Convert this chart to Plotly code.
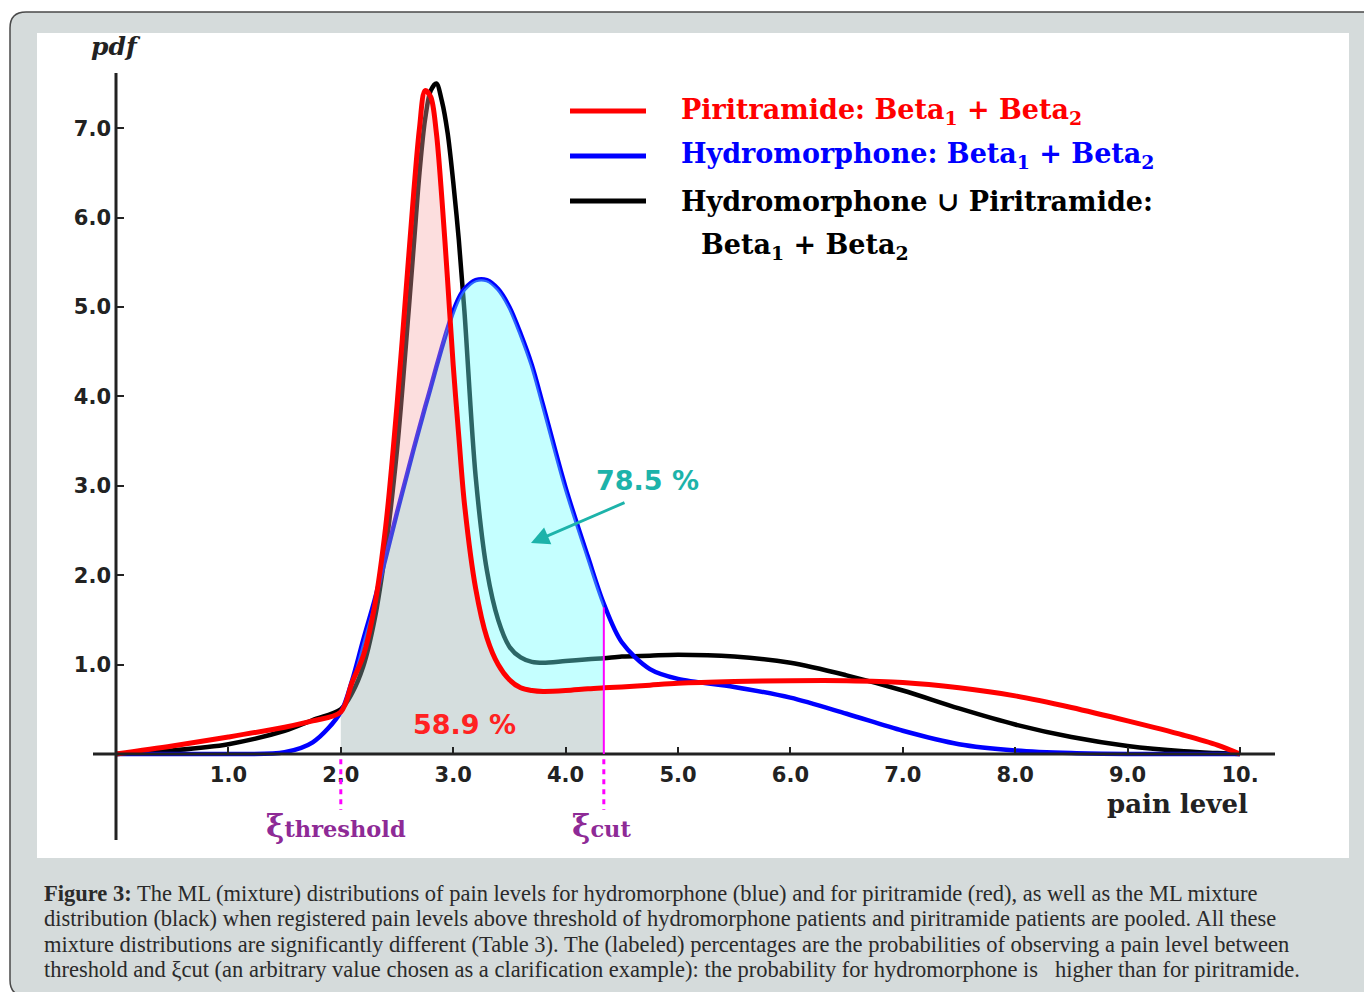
import numpy as np
import plotly.graph_objects as go

W, H = 1364, 992

# ---------------- data ----------------
pain = [0, 0.5, 1.0, 1.5, 1.75, 2.0, 2.1, 2.2, 2.3, 2.4, 2.5, 2.6, 2.65, 2.7, 2.75, 2.8, 2.85, 2.9,
        2.95, 3.0, 3.05, 3.1, 3.2, 3.3, 3.4, 3.5, 3.6, 3.7, 3.8, 4.0, 4.2, 4.34, 4.5, 4.75, 5.0,
        5.5, 6.0, 6.5, 7.0, 7.5, 8.0, 8.5, 9.0, 9.5, 9.8, 10.0]

piritramide = [0, 0.09, 0.19, 0.30, 0.37, 0.47, 0.80, 1.10, 1.65, 2.55, 3.90, 5.50, 6.30, 7.00, 7.42,
               7.35, 6.95, 6.20, 5.30, 4.35, 3.55, 2.80, 1.85, 1.30, 1.00, 0.83, 0.74, 0.71, 0.70,
               0.71, 0.73, 0.74, 0.75, 0.77, 0.79, 0.81, 0.82, 0.82, 0.80, 0.74, 0.65, 0.52, 0.37,
               0.21, 0.10, 0]

pooled = [0, 0.04, 0.11, 0.26, 0.38, 0.50, 0.68, 0.98, 1.50, 2.30, 3.40, 4.90, 5.70, 6.50, 7.10,
          7.42, 7.50, 7.30, 6.95, 6.40, 5.75, 4.95, 3.10, 2.05, 1.50, 1.20, 1.08, 1.03, 1.02, 1.04,
          1.06, 1.07, 1.09, 1.10, 1.11, 1.09, 1.02, 0.88, 0.71, 0.51, 0.33, 0.19, 0.09, 0.03, 0.01, 0]

hydromorphone = [0, 0, 0, 0.02, 0.13, 0.47, 0.82, 1.28, 1.72, 2.20, 2.70, 3.18, 3.42, 3.65, 3.88,
                 4.10, 4.33, 4.55, 4.76, 4.95, 5.10, 5.20, 5.30, 5.30, 5.20, 5.00, 4.70, 4.35, 3.90,
                 2.98, 2.20, 1.68, 1.25, 0.95, 0.84, 0.75, 0.63, 0.45, 0.26, 0.11, 0.04, 0.01, 0, 0, 0, 0]

xi_threshold = 2.0
xi_cut = 4.34

x_tickvals = [1, 2, 3, 4, 5, 6, 7, 8, 9, 10]
x_ticktext = ["1.0", "2.0", "3.0", "4.0", "5.0", "6.0", "7.0", "8.0", "9.0", "10."]
y_tickvals = [1, 2, 3, 4, 5, 6, 7]
y_ticktext = ["1.0", "2.0", "3.0", "4.0", "5.0", "6.0", "7.0"]

pct_hydro = "78.5 %"
pct_pirit = "58.9 %"

legend_items = [
    ("Piritramide: Beta<sub>1</sub> + Beta<sub>2</sub>", "#ff0000"),
    ("Hydromorphone: Beta<sub>1</sub> + Beta<sub>2</sub>", "#0000ff"),
    ("Hydromorphone ∪ Piritramide:", "#000000"),
]

caption_lines = [
    "<b>Figure 3:</b> The ML (mixture) distributions of pain levels for hydromorphone (blue) and for piritramide (red), as well as the ML mixture",
    "distribution (black) when registered pain levels above threshold of hydromorphone patients and piritramide patients are pooled. All these",
    "mixture distributions are significantly different (Table 3). The (labeled) percentages are the probabilities of observing a pain level between",
    "threshold and ξcut (an arbitrary value chosen as a clarification example): the probability for hydromorphone is   higher than for piritramide.",
]

# ---------------- helpers for layout positions (pixel -> paper) ----------------
def px(x):
    return x / W

def py(y):
    return 1 - y / H

# axis geometry: data origin at pixel (116, 754); 112.4 px per x unit, 89.4 px per y unit
X0, Y0, SX, SY = 116, 754, 112.4, 89.4
plot_l, plot_r, plot_t, plot_b = 37, 1349, 33, 858
xr = [(plot_l - X0) / SX, (plot_r - X0) / SX]
yr = [(Y0 - plot_b) / SY, (Y0 - plot_t) / SY]

SERIF = "DejaVu Serif"
SANS = "DejaVu Sans"
AXC = "#222222"
PURPLE = "#8e2a96"
MAGENTA = "#ff00ff"
TEAL = "#1db3aa"

x = np.array(pain)
r = np.array(piritramide)
b = np.array(hydromorphone)
k = np.array(pooled)

fig = go.Figure()

# lines drawn under the shading
fig.add_trace(go.Scatter(x=x, y=k, mode="lines", line=dict(color="black", width=4.5, shape="spline", smoothing=0.9),
                         hoverinfo="skip", showlegend=False))
fig.add_trace(go.Scatter(x=x, y=b, mode="lines", line=dict(color="#0000ff", width=4.5, shape="spline", smoothing=0.9),
                         hoverinfo="skip", showlegend=False))

# shaded regions between threshold and cut
m = (x >= xi_threshold - 1e-9) & (x <= xi_cut + 1e-9)
xs, rs, bs = x[m], r[m], b[m]
low = np.minimum(rs, bs)
zeros = np.zeros_like(xs)

fig.add_trace(go.Scatter(x=xs, y=zeros, mode="lines", line=dict(width=0, shape="spline", smoothing=0.9),
                         hoverinfo="skip", showlegend=False))
fig.add_trace(go.Scatter(x=xs, y=low, mode="lines", line=dict(width=0, shape="spline", smoothing=0.9), fill="tonexty",
                         fillcolor="rgba(151,173,173,0.40)", hoverinfo="skip", showlegend=False))
fig.add_trace(go.Scatter(x=xs, y=rs, mode="lines", line=dict(width=0, shape="spline", smoothing=0.9), fill="tonexty",
                         fillcolor="rgba(246,164,164,0.365)", hoverinfo="skip", showlegend=False))
fig.add_trace(go.Scatter(x=xs, y=low, mode="lines", line=dict(width=0, shape="spline", smoothing=0.9),
                         hoverinfo="skip", showlegend=False))
fig.add_trace(go.Scatter(x=xs, y=bs, mode="lines", line=dict(width=0, shape="spline", smoothing=0.9), fill="tonexty",
                         fillcolor="rgba(110,255,255,0.40)", hoverinfo="skip", showlegend=False))

# red line on top
fig.add_trace(go.Scatter(x=x, y=r, mode="lines", line=dict(color="#ff0000", width=5, shape="spline", smoothing=0.9),
                         hoverinfo="skip", showlegend=False))

cut_top = float(np.interp(xi_cut, x, b))

shapes = []
# outer rounded panel
rad = 16
x1, y1 = 10, 12
x2, y2 = W + 20, H + 4
path = (f"M {px(x1)},{py(y2 - rad)} L {px(x1)},{py(y1 + rad)} Q {px(x1)},{py(y1)} {px(x1 + rad)},{py(y1)} "
        f"L {px(x2)},{py(y1)} L {px(x2)},{py(y2)} L {px(x1 + rad)},{py(y2)} "
        f"Q {px(x1)},{py(y2)} {px(x1)},{py(y2 - rad)} Z")
shapes.append(dict(type="path", xref="paper", yref="paper", path=path, fillcolor="#d5dbdb",
                   line=dict(color="#4a4a4a", width=1.5), layer="below"))
# white chart area
shapes.append(dict(type="rect", xref="paper", yref="paper", x0=px(plot_l), x1=px(plot_r),
                   y0=py(plot_b), y1=py(plot_t), fillcolor="white", line=dict(width=0), layer="below"))
# axis lines
shapes.append(dict(type="line", xref="x", yref="y", x0=(93 - X0) / SX, x1=(1275 - X0) / SX, y0=0, y1=0,
                   line=dict(color=AXC, width=3), layer="above"))
shapes.append(dict(type="line", xref="x", yref="y", x0=0, x1=0, y0=(Y0 - 840) / SY, y1=(Y0 - 73) / SY,
                   line=dict(color=AXC, width=3), layer="above"))
# threshold / cut markers
dash_bottom = (Y0 - 810) / SY
shapes.append(dict(type="line", xref="x", yref="y", x0=xi_threshold, x1=xi_threshold, y0=-0.06, y1=dash_bottom,
                   line=dict(color=MAGENTA, width=3, dash="5px,5px")))
shapes.append(dict(type="line", xref="x", yref="y", x0=xi_cut, x1=xi_cut, y0=-0.06, y1=dash_bottom,
                   line=dict(color=MAGENTA, width=3, dash="5px,5px")))
shapes.append(dict(type="line", xref="x", yref="y", x0=xi_cut, x1=xi_cut, y0=0, y1=cut_top - 0.04,
                   line=dict(color=MAGENTA, width=2)))
# legend samples
leg_y = [111, 156, 201]
for (txt, col), yy in zip(legend_items, leg_y):
    shapes.append(dict(type="line", xref="paper", yref="paper", x0=px(570), x1=px(646), y0=py(yy), y1=py(yy),
                       line=dict(color=col, width=5)))

ann = []
for (txt, col), yy in zip(legend_items, leg_y):
    ann.append(dict(xref="paper", yref="paper", x=px(679), y=py(yy), xanchor="left", yanchor="middle",
                    text=f"<b>{txt}</b>", showarrow=False, font=dict(family=SERIF, size=27, color=col)))
ann.append(dict(xref="paper", yref="paper", x=px(699), y=py(246), xanchor="left", yanchor="middle",
                text="<b>Beta<sub>1</sub> + Beta<sub>2</sub></b>", showarrow=False,
                font=dict(family=SERIF, size=27, color="black")))
# axis titles
ann.append(dict(xref="paper", yref="paper", x=px(116), y=py(46), xanchor="center", yanchor="middle",
                text="<b><i>pdf</i></b>", showarrow=False, font=dict(family=SERIF, size=25, color=AXC)))
ann.append(dict(xref="paper", yref="paper", x=px(1177), y=py(804), xanchor="center", yanchor="middle",
                text="<b>pain level</b>", showarrow=False, font=dict(family=SERIF, size=26, color=AXC)))
# percentages
ann.append(dict(xref="paper", yref="paper", x=px(465), y=py(724), xanchor="center", yanchor="middle",
                text=f"<b>{pct_pirit}</b>", showarrow=False, font=dict(family=SANS, size=27, color="#ff2222")))
ann.append(dict(xref="paper", yref="paper", x=px(647), y=py(480), xanchor="center", yanchor="middle",
                text=f"<b>{pct_hydro}</b>", showarrow=False, font=dict(family=SANS, size=27, color=TEAL)))
ann.append(dict(xref="x", yref="y", axref="x", ayref="y", x=(531 - X0) / SX, y=(Y0 - 543) / SY,
                ax=(626 - X0) / SX, ay=(Y0 - 502) / SY, text="", showarrow=True, arrowhead=2,
                arrowsize=1.3, arrowwidth=2.8, arrowcolor=TEAL))
# xi labels
ann.append(dict(xref="paper", yref="paper", x=px(264), y=py(826), xanchor="left", yanchor="middle",
                text="<b><span style='font-size:31px'>ξ</span>threshold</b>", showarrow=False,
                font=dict(family=SERIF, size=22.5, color=PURPLE)))
ann.append(dict(xref="paper", yref="paper", x=px(570), y=py(826), xanchor="left", yanchor="middle",
                text="<b><span style='font-size:31px'>ξ</span>cut</b>", showarrow=False,
                font=dict(family=SERIF, size=22.5, color=PURPLE)))
# caption
cap_y = [893, 918, 944, 969]
for line, yy in zip(caption_lines, cap_y):
    ann.append(dict(xref="paper", yref="paper", x=px(42), y=py(yy), xanchor="left", yanchor="middle",
                    text=line, showarrow=False, font=dict(family="Liberation Serif", size=22.5, color="#2a2a2a")))

fig.update_layout(
    width=W, height=H, margin=dict(l=0, r=0, t=0, b=0),
    paper_bgcolor="white", plot_bgcolor="rgba(0,0,0,0)",
    showlegend=False, shapes=shapes, annotations=ann,
    xaxis=dict(domain=[px(plot_l), px(plot_r)], range=xr, anchor="free", position=py(Y0),
               showgrid=False, zeroline=False, showline=False, ticks="inside", ticklen=7, tickwidth=2,
               tickcolor=AXC, tickvals=x_tickvals, ticktext=x_ticktext, ticklabelstandoff=6,
               tickfont=dict(family=SANS, size=21, color=AXC, weight="bold")),
    yaxis=dict(domain=[py(plot_b), py(plot_t)], range=yr, anchor="free", position=px(X0),
               showgrid=False, zeroline=False, showline=False, ticks="inside", ticklen=7, tickwidth=2,
               tickcolor=AXC, tickvals=y_tickvals, ticktext=y_ticktext, ticklabelstandoff=5,
               tickfont=dict(family=SANS, size=21, color=AXC, weight="bold")),
)

fig.write_html("out.html")
